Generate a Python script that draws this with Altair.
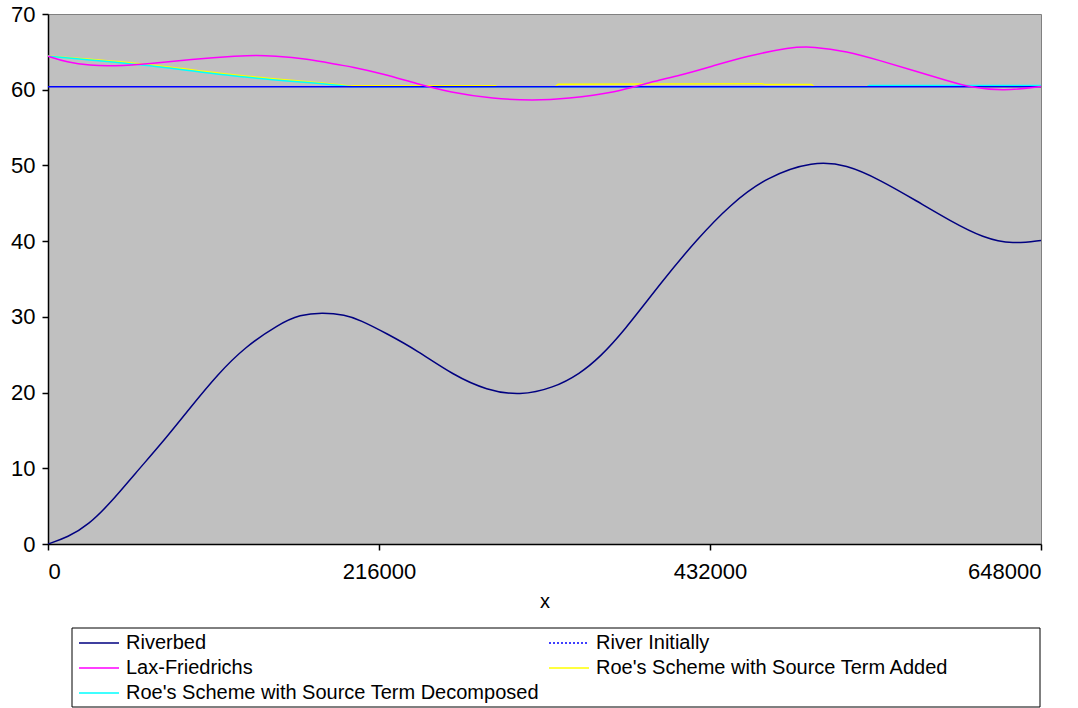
import altair as alt
import pandas as pd

# Series names and styles
RIVERBED = "Riverbed"
INITIAL = "River Initially"
LAX = "Lax-Friedrichs"
ROE_ADDED = "Roe's Scheme with Source Term Added"
ROE_DECOMP = "Roe's Scheme with Source Term Decomposed"

# legend entries fill column by column: left column first, then right
legend_order = [RIVERBED, LAX, ROE_DECOMP, INITIAL, ROE_ADDED]
legend_colors = ["#000080", "#FF00FF", "#00FFFF", "#0000FF", "#FFFF00"]
legend_dashes = [[1, 0], [1, 0], [1, 0], [2, 2], [1, 0]]

# Riverbed elevation
bed_x = [0, 13000, 26300, 41600, 56800, 74200, 91600, 111100, 128500, 150300, 164400,
         179500, 193800, 203600, 221000, 240600, 264500, 286300, 308000, 329700,
         347200, 360200, 375400, 401500, 423300, 445000, 469000, 499400, 521200,
         542900, 566900, 588600, 610400, 629900, 648000]
bed_y = [0, 0.9, 2.5, 5.6, 9.3, 13.3, 17.7, 22.5, 26.0, 29.0, 30.3,
         30.6, 30.25, 29.6, 27.8, 25.6, 22.3, 20.3, 19.6, 20.6,
         22.5, 24.7, 28.0, 34.9, 40.2, 44.8, 48.5, 50.6, 50.1,
         48.1, 45.3, 42.7, 40.4, 39.6, 40.1]

# Initial water surface
ri_x = [0, 648000]
ri_y = [60.4, 60.4]

# Lax-Friedrichs water surface
lf_x = [0, 12200, 27400, 42600, 66600, 92700, 125300, 136000, 147000, 168800,
        190500, 197100, 218800, 240600, 262300, 290600, 316700, 338500, 371100,
        392800, 412400, 434200, 456000, 484200, 499400, 521200, 542900, 564600,
        586500, 601700, 623400, 648000]
lf_y = [64.43, 63.64, 63.2, 63.11, 63.43, 64.0, 64.48, 64.55, 64.48, 64.09,
        63.25, 63.07, 62.1, 60.78, 59.67, 58.8, 58.58, 58.8, 59.67,
        60.99, 61.88, 63.16, 64.43, 65.62, 65.71, 65.09, 63.86, 62.54,
        61.22, 60.34, 59.81, 60.43]

# Roe's scheme, source term added
ra_x = [0, 60000, 125300, 190500, 198000, 199000, 292000, 293000, 331000, 333000,
        466000, 468000, 498000, 500000, 534000, 536000, 601000, 603000, 648000]
ra_y = [64.45, 63.43, 61.88, 60.65, 60.5, 60.52, 60.52, 60.4, 60.4, 60.72,
        60.78, 60.69, 60.69, 60.4, 60.4, 60.52, 60.52, 60.4, 60.4]

# Roe's scheme, source term decomposed
rd_x = [0, 60000, 131800, 190500, 198000, 534000, 536000, 648000]
rd_y = [64.43, 63.3, 61.6, 60.55, 60.4, 60.4, 60.56, 60.56]

x_ticks = [0, 216000, 432000, 648000]
y_ticks = [0, 10, 20, 30, 40, 50, 60, 70]

series_xy = {
    RIVERBED: (bed_x, bed_y),
    INITIAL: (ri_x, ri_y),
    LAX: (lf_x, lf_y),
    ROE_ADDED: (ra_x, ra_y),
    ROE_DECOMP: (rd_x, rd_y),
}
rows = []
for name, (xs, ys) in series_xy.items():
    for i, (xv, yv) in enumerate(zip(xs, ys)):
        rows.append({"series": name, "x": xv, "y": yv, "i": i})
df = pd.DataFrame(rows)

FONT = "Liberation Sans"

x_enc = alt.X("x:Q", title="x",
              scale=alt.Scale(domain=[0, 648000], nice=False, zero=False),
              axis=alt.Axis(values=x_ticks, format="d", grid=False,
                            labelFontSize=22, titleFontSize=20,
                            labelPadding=11, titlePadding=9,
                            tickSize=6, domainColor="black", tickColor="black",
                            domainWidth=1.5, tickWidth=1.5,
                            labelColor="black", titleColor="black",
                            titleFontWeight="normal", labelFont=FONT, titleFont=FONT))
y_enc = alt.Y("y:Q", title=None,
              scale=alt.Scale(domain=[0, 70], nice=False),
              axis=alt.Axis(values=y_ticks, grid=False, labelFontSize=22,
                            labelPadding=7, tickSize=6, domainColor="black",
                            tickColor="black", domainWidth=1.5, tickWidth=1.5,
                            labelColor="black", labelFont=FONT))

color_scale = alt.Scale(domain=legend_order, range=legend_colors)
dash_scale = alt.Scale(domain=legend_order, range=legend_dashes)

legend = alt.Legend(
    title=None, orient="none", legendX=24, legendY=614, columns=2,
    symbolType="stroke", symbolSize=1600, symbolStrokeWidth=1.5,
    clipHeight=24, rowPadding=1, columnPadding=6, labelOffset=6,
    symbolOffset=3, padding=3,
    labelFont=FONT, labelFontSize=20, labelColor="black", gridAlign="each",
    labelLimit=700,
)


def series_layer(name, interp):
    return (
        alt.Chart(df)
        .transform_filter(alt.datum.series == name)
        .mark_line(strokeWidth=1.5, interpolate=interp, clip=True)
        .encode(x=x_enc, y=y_enc, order="i:Q",
                color=alt.Color("series:N", scale=color_scale, legend=legend))
    )


# Legend source: one point per series, so it draws no visible line
key_df = pd.DataFrame({"series": legend_order, "x": [0] * 5, "y": [0] * 5})
key_layer = (
    alt.Chart(key_df)
    .mark_line(strokeWidth=1.5)
    .encode(x=x_enc, y=y_enc,
            color=alt.Color("series:N", scale=color_scale, legend=legend),
            strokeDash=alt.StrokeDash("series:N", scale=dash_scale, legend=legend))
)

# White framed panel behind the legend entries
legend_frame = (
    alt.Chart(pd.DataFrame({"k": [0]}))
    .mark_rect(fill="white", stroke="black", strokeWidth=1)
    .encode(x=alt.value(24), x2=alt.value(992), y=alt.value(614), y2=alt.value(693))
)

layers = [
    series_layer(RIVERBED, "basis"),
    series_layer(ROE_ADDED, "monotone"),
    series_layer(ROE_DECOMP, "monotone"),
    series_layer(INITIAL, "linear"),
    series_layer(LAX, "basis"),
    key_layer,
    legend_frame,
]

chart = (
    alt.layer(*layers)
    .properties(
        width=993, height=530,
        padding={"left": 48, "top": 14, "right": 37, "bottom": 164},
        autosize=alt.AutoSizeParams(type="none"),
        background="white",
    )
    .configure_view(fill="#C0C0C0", stroke="#808080", strokeWidth=1)
)

chart.save("out.html", embed_options={"renderer": "svg", "actions": False})
